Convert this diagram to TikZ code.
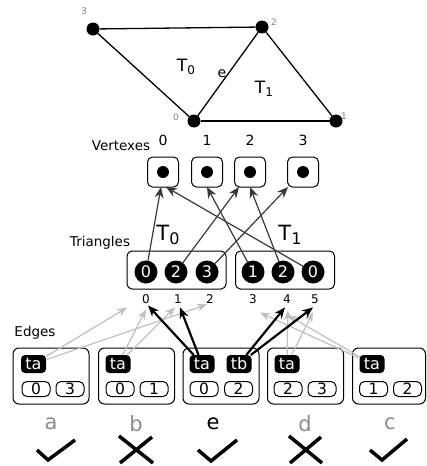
\documentclass[tikz,border=0pt]{standalone}
\usepackage{fontspec}
\setmainfont{DejaVu Sans}
\usetikzlibrary{arrows.meta}
\newcommand{\fs}[1]{\fontsize{#1}{#1}\selectfont}
\begin{document}
\begin{tikzpicture}[x=1pt,y=-1pt,
  every node/.style={inner sep=0pt, outer sep=0pt},
  mdot/.style={circle, fill=black, minimum size=13pt},
  mlab/.style={text=gray, font=\fs{9}},
  mline/.style={line width=1.3pt},
  vbox/.style={draw, rounded corners=5pt, minimum width=31pt, minimum height=30pt, line width=1pt},
  vdot/.style={circle, fill=black, minimum size=12pt},
  vnum/.style={font=\fs{14}},
  tribox/.style={draw, rounded corners=5pt, minimum width=99pt, minimum height=38pt, line width=1pt},
  tcirc/.style={circle, fill=black, minimum size=23pt, text=white, font=\fs{16}},
  inum/.style={font=\fs{12}},
  ebox/.style={draw, rounded corners=6pt, minimum width=76pt, minimum height=56pt, line width=1pt},
  tabox/.style={fill=black, rounded corners=4pt, minimum width=25pt, minimum height=18pt, text=white, font=\fs{16}},
  sbox/.style={draw, rounded corners=5pt, minimum width=28pt, minimum height=15pt, line width=1pt, font=\fs{15.5}},
  rowlab/.style={font=\fs{13.5}},
  varrow/.style={draw=black!78, line width=1.2pt, -{Stealth[length=11pt,width=9pt]}},
  garrow/.style={draw=black!25, line width=1.2pt, -{Stealth[length=10pt,width=8pt]}},
  barrow/.style={draw=black, line width=2.2pt, -{Stealth[length=11pt,width=9pt]}},
  okmark/.style={line width=3.5pt},
]
\useasboundingbox (0,0) rectangle (426,466);

% ---- mesh ----
\node[mdot] (m3) at (93,29) {};
\node[mdot] (m2) at (262,27) {};
\node[mdot] (m0) at (194,121) {};
\node[mdot] (m1) at (336,121) {};
\draw[mline] (m3) -- (m2);
\draw[mline] (m3) -- (m0);
\draw[mline] (m0) -- (m2);
\draw[mline] (m2) -- (m1);
\draw[mline] (m0) -- (m1);
\node[mlab] (l3) at (84,11) {3};
\node[mlab] (l2) at (274,22) {2};
\node[mlab] (l0) at (176,117) {0};
\node[mlab] (l1) at (344,116) {1};
\node[font=\fs{17}] (mt0) at (186,67) {T\raisebox{-0.3ex}{\fs{12}0}};
\node[font=\fs{14}] (me) at (222,74) {e};
\node[font=\fs{17}] (mt1) at (264,89) {T\raisebox{-0.3ex}{\fs{12}1}};

% ---- vertexes ----
\node[rowlab] (vlab) at (121,146) {Vertexes};
\foreach \i/\x in {0/163,1/207,2/250,3/303}{
  \node[vnum] (vn\i) at (\x,140) {\i};
  \node[vbox] (v\i) at (\x,172) {};
  \node[vdot] (vd\i) at (\x,172) {};
}

% ---- triangles ----
\node[rowlab] (tlab) at (100,243) {Triangles};
\node[font=\fs{21}] (tt0) at (168,235) {T\raisebox{-0.3ex}{\fs{16}0}};
\node[font=\fs{21}] (tt1) at (290,235) {T\raisebox{-0.3ex}{\fs{16}1}};
\node[tribox] (tb0) at (176.5,270) {};
\node[tribox] (tb1) at (285,270) {};
\node[tcirc] (c0) at (146,272) {0};
\node[tcirc] (c1) at (176,272) {2};
\node[tcirc] (c2) at (207,272) {3};
\node[tcirc] (d0) at (253,272) {1};
\node[tcirc] (d1) at (283,272) {2};
\node[tcirc] (d2) at (313,272) {0};
\foreach \i/\x in {0/146,1/178,2/210,3/253,4/287,5/315}{
  \node[inum] (i\i) at (\x,299) {\i};
}

% vertex arrows
\draw[varrow] (c0) -- ([xshift=-2pt]v0.south);
\draw[varrow] (c1) -- ([xshift=-11pt]v2.south);
\draw[varrow] (c2) -- ([xshift=-15pt]v3.south);
\draw[varrow] (d0) -- (v1.south);
\draw[varrow] (d1) -- (v2.south);
\draw[varrow] (d2) -- ([xshift=3pt]v0.south);

% ---- edges ----
\node[rowlab] (elab) at (35,333) {Edges};
\node[ebox] (ea) at (51,376) {};
\node[ebox] (eb) at (136.5,376) {};
\node[ebox] (ee) at (221,376) {};
\node[ebox] (ed) at (305.5,376) {};
\node[ebox, minimum width=73pt] (ec) at (389,376) {};

\node[tabox] (taA) at (33.5,364) {ta};
\node[sbox] (sa0) at (36,389) {0};
\node[sbox] (sa1) at (70,389) {3};

\node[tabox] (taB) at (118,364) {ta};
\node[sbox] (sb0) at (120,389) {0};
\node[sbox] (sb1) at (154,389) {1};

\node[tabox] (taE) at (202,364) {ta};
\node[tabox] (tbE) at (239,364) {tb};
\node[sbox] (se0) at (204,389) {0};
\node[sbox] (se1) at (238.5,389) {2};

\node[tabox] (taD) at (287,364) {ta};
\node[sbox] (sd0) at (288,389) {2};
\node[sbox] (sd1) at (322,389) {3};

\node[tabox] (taC) at (372,364) {ta};
\node[sbox] (sc0) at (373.5,389) {1};
\node[sbox] (sc1) at (407.5,389) {2};

% grey edge arrows
\draw[garrow] (taA) -- ([shift={(-19,4)}]i0.south);
\draw[garrow] (taA) -- ([shift={(-3,1)}]i2.south);
\draw[garrow] (taB) -- ([shift={(0,6)}]i0.south);
\draw[garrow] (taB) -- ([shift={(-3,4)}]i1.south);
\draw[garrow] (taD) -- ([shift={(1,7)}]i4.south);
\draw[garrow] (taD) -- ([shift={(-2,9)}]i5.south);
\draw[garrow] (taC) -- ([shift={(7,9)}]i3.south);
\draw[garrow] (taC) -- ([shift={(1,12)}]i4.south);
% black edge arrows
\draw[barrow] (taE) -- ([shift={(2,2)}]i0.south);
\draw[barrow] (taE) -- ([shift={(2,4)}]i1.south);
\draw[barrow] (tbE) -- ([shift={(-2,4)}]i4.south);
\draw[barrow] (tbE) -- ([shift={(-2,4)}]i5.south);

% ---- letters and marks ----
\node[font=\fs{21}, text=black!45] (la) at (51,424) {a};
\node[font=\fs{21}, text=black!45] (lb) at (136,424) {b};
\node[font=\fs{21}] (le) at (213,424) {e};
\node[font=\fs{21}, text=black!45] (ld) at (305,424) {d};
\node[font=\fs{21}, text=black!45] (lc) at (390,424) {c};

\draw[okmark] (37,450) -- (48,460) -- (75,440);
\draw[okmark] (198,450) -- (211,461) -- (237,440);
\draw[okmark] (370,450) -- (382,460) -- (407,439);
\draw[okmark] (119,436) -- (153,463) (120,463) -- (152,437);
\draw[okmark] (289,436) -- (322,463) (290,463) -- (321,437);
\end{tikzpicture}
\end{document}
